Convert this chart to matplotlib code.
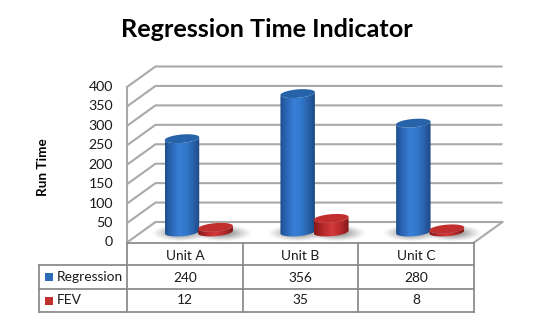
import numpy as np
import matplotlib
matplotlib.use("Agg")
import matplotlib.pyplot as plt
from matplotlib.colors import LinearSegmentedColormap
from matplotlib.patches import Polygon

title = "Regression Time Indicator"
y_label = "Run Time"
categories = ["Unit A", "Unit B", "Unit C"]
series_names = ["Regression", "FEV"]
regression = [240, 356, 280]
fev = [12, 35, 8]
y_ticks = [0, 50, 100, 150, 200, 250, 300, 350, 400]

plt.rcParams['font.family'] = ['Lato', 'DejaVu Sans']
W, H = 535, 321
fig = plt.figure(figsize=(W / 100, H / 100), dpi=100)
ax = fig.add_axes([0, 0, 1, 1])

# pixel layout of the front plane
X0, X1, Y0, Y4 = 127.0, 474.0, 242.5, 87.0
SX = (X1 - X0) / 3
SY = (Y0 - Y4) / 400
DX, DY = 28.5, 20.5  # depth of the box, px
ax.set_xlim(-X0 / SX, (W - X0) / SX)
ax.set_ylim((Y0 - H) / SY, Y0 / SY)
ax.axis("off")


def px(x):
    return (x - X0) / SX


def py(y):
    return (Y0 - y) / SY


GRID = "#a9a9a9"
TABLE = "#8c8c8c"
TXT = "#1a1a1a"

# walls and floor
for t in y_ticks:
    yb = t + DY / SY
    ax.plot([3 + DX / SX, DX / SX, 0], [yb, yb, t], color=GRID, lw=1.5, zorder=1,
            solid_capstyle="butt", solid_joinstyle="miter")
ax.plot([0, 0], [0, 400], color=GRID, lw=1.5, zorder=1)
ax.plot([3, 3 + DX / SX], [0, DY / SY], color=GRID, lw=1.5, zorder=1)


def ellipse(cx, cy, a, b, tilt, t):
    """Points of an ellipse given in data coords centre and px radii."""
    c, s = np.cos(tilt), np.sin(tilt)
    ex, ey = a * np.cos(t), b * np.sin(t)
    return cx + (ex * c - ey * s) / SX, cy + (ex * s + ey * c) / SY


def shadow(cx, cy, a, z):
    n = 80
    xx = np.linspace(-1, 1, n)
    yy = np.linspace(-1, 1, 40)
    gx, gy = np.meshgrid(xx, yy)
    al = np.clip(1.25 - np.sqrt(gx ** 2 + gy ** 2) * 1.3, 0, 1) ** 1.2 * 0.75
    img = np.zeros((40, n, 4))
    img[..., :3] = 0.42
    img[..., 3] = al
    w, h = (a + 12) / SX, 9 / SY
    ax.imshow(img, extent=[cx - w, cx + w, cy - h, cy + h], aspect="auto", zorder=z,
              interpolation="bilinear")


def cylinder(cx, v, a, cols, topcol, z):
    base = py(232.0)
    b, tilt = 4.2, np.radians(5)
    cmap = LinearSegmentedColormap.from_list("c", cols)
    t = np.linspace(0, 2 * np.pi, 100)
    # body outline: lower half of base + upper half of top
    tl = np.linspace(np.pi, 2 * np.pi, 50)
    bx, by = ellipse(cx, base, a, b, tilt, tl)
    tx, ty = ellipse(cx, base + v, a, b, tilt, tl[::-1])
    body = Polygon(np.c_[np.r_[bx, tx], np.r_[by, ty]], closed=True, fc="none", ec="none")
    ax.add_patch(body)
    grad = np.linspace(0, 1, 64)[None, :]
    im = ax.imshow(grad, cmap=cmap, aspect="auto", zorder=z, interpolation="bilinear",
                   extent=[cx - a / SX, cx + a / SX, base - 6 / SY, base + v + 6 / SY])
    im.set_clip_path(body)
    ex, ey = ellipse(cx, base + v, a, b, tilt, t)
    ax.fill(ex, ey, color=topcol, zorder=z + 0.1, lw=0)


BLUE = ["#1f4f8e", "#2c69b8", "#3a7fd6", "#3178cc", "#2a63ae", "#1e4a85"]
BLUE_TOP = "#2763a9"
RED = ["#86191a", "#b62a2b", "#d43a3a", "#b52a2b", "#7f1718"]
RED_TOP = "#c12e2e"
OFF_B, OFF_R = 55.0 / SX, 88.5 / SX

for i in range(3):
    shadow(i + OFF_B - 1 / SX, py(233), 19, 2 + i)
    shadow(i + OFF_R + 6 / SX, py(233), 19, 2 + i)
for i in range(3):
    cylinder(i + OFF_B, regression[i], 17.3, BLUE, BLUE_TOP, 5 + i)
    cylinder(i + OFF_R, fev[i], 17.5, RED, RED_TOP, 5.5 + i)

# table
RT, R1, R2, RB = 243.0, 265.0, 289.0, 312.0
LEFT = 39.0
for yy, x_start in [(RT, X0), (R1, LEFT), (R2, LEFT), (RB, LEFT)]:
    ax.plot([px(x_start), 3], [py(yy)] * 2, color=TABLE, lw=1.3, zorder=10, solid_capstyle="projecting")
for i in range(4):
    ax.plot([i, i], [py(RT), py(RB)], color=TABLE, lw=1.3, zorder=10)
ax.plot([px(LEFT)] * 2, [py(R1), py(RB)], color=TABLE, lw=1.3, zorder=10)

FS = 9.9
for i, c in enumerate(categories):
    ax.text(i + .5, py(256), c, ha="center", va="center", fontsize=FS, color=TXT)
    ax.text(i + .5, py(277.5), str(regression[i]), ha="center", va="center", fontsize=FS, color=TXT)
    ax.text(i + .5, py(300.5), str(fev[i]), ha="center", va="center", fontsize=FS, color=TXT)
for name, yy, col in zip(series_names, [277, 300.5], ["#2e6cb8", "#c0302f"]):
    ax.text(px(57), py(yy), name, ha="left", va="center", fontsize=FS, color=TXT)
    ax.fill([px(45), px(53), px(53), px(45)], [py(yy - 4), py(yy - 4), py(yy + 4), py(yy + 4)],
            color=col, lw=0, zorder=10)

for t in y_ticks:
    ax.text(px(113), t, str(t), ha="right", va="center", fontsize=10.2, color=TXT)

ax.text(px(43), py(167.5), y_label, rotation=90, ha="center", va="center", fontsize=9.7,
        fontweight="bold", color="black")
ax.text(px(267), py(29), title, ha="center", va="center", fontsize=18.2, fontweight="bold", color="black")

fig.savefig("out.png", dpi=100, facecolor="white")
